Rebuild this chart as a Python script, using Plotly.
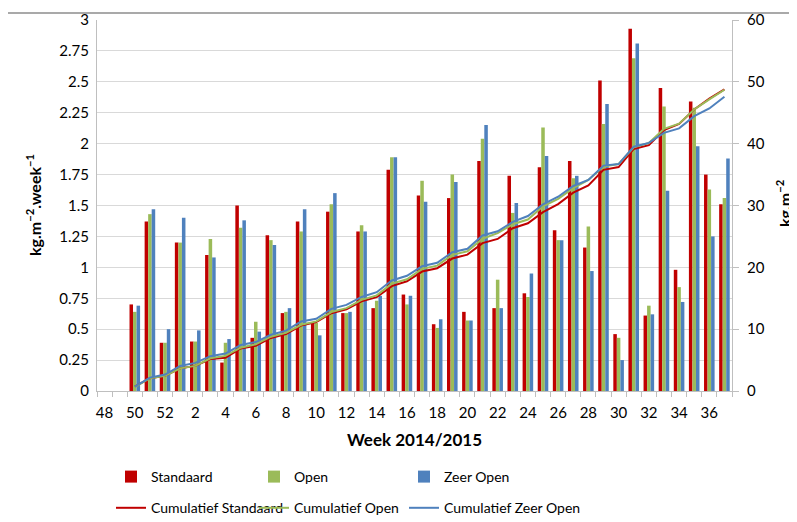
import plotly.graph_objects as go
import pandas as pd

weeks = ["48", "49", "50", "51", "52"] + [str(w) for w in range(1, 38)]
tick_labels = [w if i % 2 == 0 else "" for i, w in enumerate(weeks)]

# weekly production kg.m-2.week-1 (weeks 48 and 49 have no data)
standaard = [None, None,
             0.70, 1.37, 0.39, 1.20, 0.40, 1.10, 0.23, 1.50, 0.43, 1.26,
             0.63, 1.37, 0.55, 1.45, 0.63, 1.29, 0.67, 1.79, 0.78, 1.58,
             0.54, 1.56, 0.64, 1.86, 0.67, 1.74, 0.79, 1.81, 1.30, 1.86,
             1.16, 2.51, 0.46, 2.93, 0.61, 2.45, 0.98, 2.34, 1.75, 1.51]
open_ = [None, None,
         0.64, 1.43, 0.39, 1.20, 0.40, 1.23, 0.39, 1.32, 0.56, 1.22,
         0.64, 1.29, 0.55, 1.51, 0.63, 1.34, 0.73, 1.89, 0.70, 1.70,
         0.51, 1.75, 0.57, 2.04, 0.90, 1.44, 0.76, 2.13, 1.22, 1.72,
         1.33, 2.16, 0.43, 2.69, 0.69, 2.30, 0.84, 2.29, 1.63, 1.56]
zeer_open = [None, None,
             0.69, 1.47, 0.50, 1.40, 0.49, 1.08, 0.42, 1.38, 0.48, 1.18,
             0.67, 1.47, 0.45, 1.60, 0.64, 1.29, 0.77, 1.89, 0.77, 1.53,
             0.58, 1.69, 0.57, 2.15, 0.67, 1.52, 0.95, 1.90, 1.22, 1.74,
             0.97, 2.32, 0.25, 2.81, 0.62, 1.62, 0.72, 1.98, 1.25, 1.88]

series_names = ["Standaard", "Open", "Zeer Open"]
series_vals = [standaard, open_, zeer_open]
colors = ["#C00000", "#9BBB59", "#4F81BD"]
legend_ids = ["legend", "legend2", "legend3"]
legend_x = [103, 246, 396]   # figure pixels, one legend column per series

FONT = "Lato"
W, H = 797, 522
ML, MT, PW, PH = 89, 12, 635, 371   # the page adds an 8px body margin
fig = go.Figure()

for name, vals, col, lg in zip(series_names, series_vals, colors, legend_ids):
    fig.add_trace(go.Bar(x=weeks, y=vals, name=name, marker_color=col,
                         marker_line_width=0, legend=lg,
                         legendgroup=name + "_bar", yaxis="y"))

for name, vals, col, lg in zip(series_names, series_vals, colors, legend_ids):
    cum = pd.Series(vals, dtype="float").cumsum()
    fig.add_trace(go.Scatter(x=weeks, y=cum, name="Cumulatief " + name,
                             mode="lines", line=dict(color=col, width=2),
                             legend=lg, legendgroup=name + "_cum",
                             yaxis="y2"))

legend_common = dict(orientation="v", xref="container", yref="container",
                     xanchor="left", y=1 - 484.5 / H, yanchor="middle",
                     font=dict(size=14), traceorder="grouped",
                     tracegroupgap=10, bgcolor="rgba(0,0,0,0)")


def px_x(px):
    return (px - ML) / PW


def px_y(py):
    return (MT + PH - py) / PH


fig.update_layout(
    width=W, height=H,
    margin=dict(l=ML, r=W - ML - PW, t=MT, b=H - MT - PH, autoexpand=False),
    paper_bgcolor="white", plot_bgcolor="white",
    font=dict(family=FONT, size=15, color="#000000"),
    barmode="group", bargap=0.3, bargroupgap=0,
    xaxis=dict(type="category", categoryorder="array", categoryarray=weeks,
               range=[-0.5, len(weeks) - 0.5], automargin=False,
               tickmode="array", tickvals=weeks, ticktext=tick_labels,
               tickson="boundaries", ticks="outside", ticklen=5,
               tickcolor="#bfbfbf", showline=True, linecolor="#bfbfbf",
               showgrid=False, tickangle=0, ticklabelstandoff=8,
               title=dict(text="<b>Week 2014/2015</b>", font=dict(size=17),
                          standoff=14)),
    yaxis=dict(range=[0, 3], dtick=0.25, showgrid=True, gridcolor="#d9d9d9",
               showline=True, linecolor="#bfbfbf", zeroline=False,
               ticks="", ticklabelstandoff=4, automargin=False),
    yaxis2=dict(range=[0, 60], dtick=10, overlaying="y", side="right",
                showgrid=False, zeroline=False, showline=True,
                linecolor="#bfbfbf", ticks="outside", ticklen=6,
                tickcolor="#bfbfbf", ticklabelstandoff=5, automargin=False),
    legend=dict(legend_common, x=legend_x[0] / W),
    legend2=dict(legend_common, x=legend_x[1] / W),
    legend3=dict(legend_common, x=legend_x[2] / W),
    annotations=[
        dict(text="<b>kg.m<sup>−2</sup>.week<sup>−1</sup></b>",
             xref="paper", yref="paper", x=px_x(25), y=px_y(197),
             xanchor="center", yanchor="middle", textangle=-90,
             showarrow=False, font=dict(size=16)),
        dict(text="<b>kg.m<sup>−2</sup></b>",
             xref="paper", yref="paper", x=px_x(775), y=px_y(195),
             xanchor="center", yanchor="middle", textangle=-90,
             showarrow=False, font=dict(size=16)),
    ],
    shapes=[dict(type="line", xref="paper", yref="paper", layer="above",
                 x0=px_x(0), x1=px_x(W), y0=px_y(5), y1=px_y(5),
                 line=dict(color="#8c8c8c", width=1.5))],
)

fig.write_html("out.html")
